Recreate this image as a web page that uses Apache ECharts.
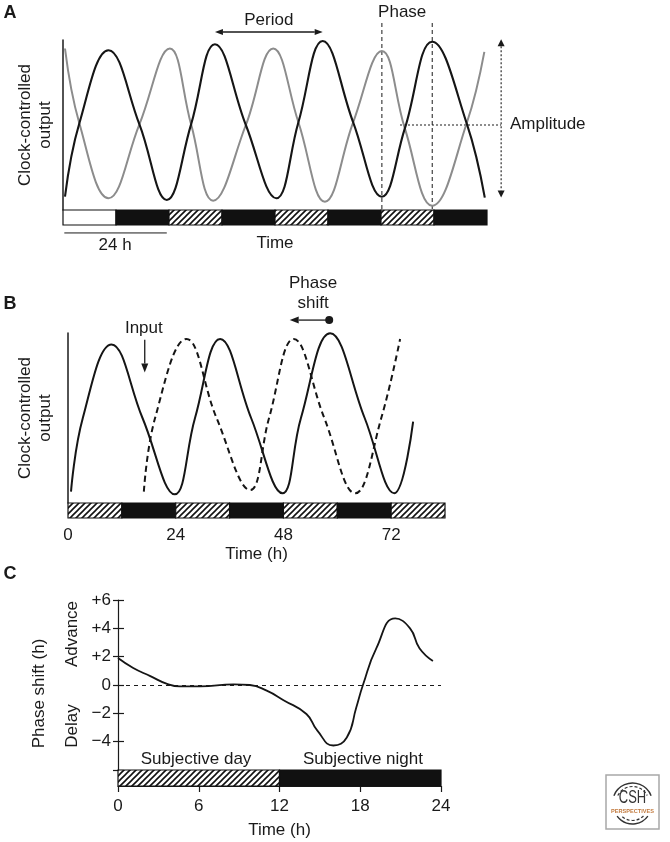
<!DOCTYPE html>
<html><head><meta charset="utf-8">
<script src="https://cdn.jsdelivr.net/npm/echarts@6/dist/echarts.min.js"></script>
<style>html,body{margin:0;padding:0;background:#fff}#c{width:670px;height:842px}</style>
</head><body><div id="c"></div>
<script>
// ---------- DATA (time in h, output in arbitrary % units) ----------
// peaks, troughs and mid-level crossings
const aBlack = [[0.45,7.8],[3.7,51],[10.3,94],[17.3,50.4],[23.5,5.9],[29,50.4],[34.4,97.5],[41.4,50],[48.3,6.9],[53.3,51.6],[58.8,99.4],[65.7,51.6],[72.2,7.8],[77.4,48],[83.6,99],[91.4,51],[95.5,7.3]];
const aGray = [[0.45,95],[3.7,51],[10.3,6.9],[17.3,50.4],[24.2,95],[29,50.4],[34,5.5],[41.4,50],[47.6,95],[53.3,51.6],[59.3,4.9],[65.7,51.6],[72.2,93.5],[77.4,48],[83.6,2.5],[91.4,51],[95.4,93]];
const aBarSegs = [[0,12,'white'],[12,24,'black'],[24,36,'hatch'],[36,48,'black'],[48,60,'hatch'],[60,72,'black'],[72,84,'hatch'],[84,96,'black']];

const bSolid = [[0.67,6.7],[3.3,50],[9.7,93.3],[16.6,50],[23.8,5.1],[28.3,50],[33.9,96.5],[40.8,50],[47.8,5.7],[51.9,50],[58.4,99.8],[66.1,50],[72.7,5.7],[76.9,47.8]];
const bDashed = [[16.9,6.7],[19.4,50],[26.4,96.5],[33.1,50],[40.6,7.6],[44.8,50],[50.3,96.5],[57.1,50],[64,5.7],[69.8,50],[74,96.5]];
const bBarSegs = [[0,12,'hatch'],[12,24,'black'],[24,36,'hatch'],[36,48,'black'],[48,60,'hatch'],[60,72,'black'],[72,84,'hatch']];
const bTicks = [0,24,48,72];

const cCurve = [[0,1.9],[1.13,1.2],[2.4,0.63],[3.6,0.1],[4.6,-0.1],[6.1,-0.1],[8.6,0.05],[9.8,0],[11.05,-0.4],[12.3,-1.07],[14,-2.05],[14.8,-3.2],[16,-4.27],[17,-3.7],[17.7,-1.6],[18.2,0],[19.2,2.6],[20.6,4.7],[21.7,4.0],[22.4,2.6],[23.4,1.7]];
const cBarSegs = [[0,12,'hatch'],[12,24,'black']];
const cXTicks = [0,6,12,18,24];

// ---------- STYLE ----------
const FONT = '"Liberation Sans", Arial, Helvetica, sans-serif';
const INK = '#1a1a1a';
const hc = document.createElement('canvas'); hc.width = 6; hc.height = 6;
(function(){const g = hc.getContext('2d'); g.fillStyle = '#fff'; g.fillRect(0,0,6,6);
 g.strokeStyle = '#111'; g.lineWidth = 1.6; g.beginPath();
 g.moveTo(0,6); g.lineTo(6,0); g.moveTo(-1,1); g.lineTo(1,-1); g.moveTo(5,7); g.lineTo(7,5); g.stroke();})();
const fills = {white:'#fff', black:'#111', hatch:{image: hc, repeat:'repeat'}};

function barSeries(segs, xi, yi){
  return {type:'custom', xAxisIndex:xi, yAxisIndex:yi, silent:true,
    data: segs.map(s => [s[0], s[1]]),
    renderItem: function(params, api){
      const seg = segs[params.dataIndex];
      const p0 = api.coord([api.value(0), 1]), p1 = api.coord([api.value(1), 0]);
      return {type:'rect', shape:{x:p0[0], y:p0[1], width:p1[0]-p0[0], height:p1[1]-p0[1]},
        style:{fill: fills[seg[2]], stroke:'#111', lineWidth:1.2}};
    }};
}
const hidden = {show:false};
function outAxisY(gi, gap){
  return {gridIndex:gi, type:'value', min:0, max:100,
    axisLine:{show:true, lineStyle:{color:INK, width:1.5}}, axisTick:hidden, axisLabel:hidden, splitLine:hidden,
    name:'Clock-controlled\noutput', nameLocation:'middle', nameGap:gap, nameRotate:90,
    nameTextStyle:{fontSize:17, lineHeight:20, color:INK, fontFamily:FONT}};
}
const lbl = {fontSize:17, color:INK, fontFamily:FONT};
const SM = 0.42;

const option = {
  animation:false,
  textStyle:{fontFamily:FONT},
  grid:[
    {left:63, top:40, width:424, height:170},
    {left:63, top:210, width:424, height:15},
    {left:68, top:333, width:377, height:170},
    {left:68, top:503, width:377, height:15},
    {left:118, top:600, width:323, height:170},
    {left:118, top:770, width:323, height:16}
  ],
  xAxis:[
    {gridIndex:0, type:'value', min:0, max:96, show:false},
    {gridIndex:1, type:'value', min:0, max:96, axisLine:hidden, axisTick:hidden, axisLabel:hidden, splitLine:hidden,
      name:'Time', nameLocation:'middle', nameGap:10, nameTextStyle:lbl},
    {gridIndex:2, type:'value', min:0, max:84, show:false},
    {gridIndex:3, type:'value', min:0, max:84, interval:24, axisLine:hidden, axisTick:hidden, splitLine:hidden,
      axisLabel:Object.assign({margin:9, formatter: v => bTicks.includes(v) ? String(v) : ''}, lbl),
      name:'Time (h)', nameLocation:'middle', nameGap:28, nameTextStyle:lbl},
    {gridIndex:4, type:'value', min:0, max:24, show:false},
    {gridIndex:5, type:'value', min:0, max:24, interval:6, splitLine:hidden,
      axisLine:{show:true, lineStyle:{color:INK, width:1.2}},
      axisTick:{show:true, length:6, lineStyle:{color:INK, width:1.2}},
      axisLabel:Object.assign({margin:12, formatter: v => cXTicks.includes(v) ? String(v) : ''}, lbl),
      name:'Time (h)', nameLocation:'middle', nameGap:36, nameTextStyle:lbl}
  ],
  yAxis:[
    outAxisY(0, 8),
    {gridIndex:1, type:'value', min:0, max:1, show:false},
    outAxisY(2, 13),
    {gridIndex:3, type:'value', min:0, max:1, show:false},
    {gridIndex:4, type:'value', min:-6, max:6, interval:2, position:'left', splitLine:hidden,
      axisLine:{show:true, lineStyle:{color:INK, width:1.2}},
      axisTick:{show:true, length:5, lineStyle:{color:INK, width:1.2}},
      axisLabel:Object.assign({margin:7, formatter: v => v === -6 ? '' : (v > 0 ? '+' + v : (v < 0 ? '\u2212' + (-v) : '0'))}, lbl)},
    {gridIndex:4, type:'value', min:-6, max:6, interval:2, position:'left', offset:0, splitLine:hidden,
      axisLine:hidden, axisLabel:hidden,
      axisTick:{show:true, inside:true, length:6, lineStyle:{color:INK, width:1.2}}},
    {gridIndex:5, type:'value', min:0, max:1, show:false}
  ],
  series:[
    {type:'line', xAxisIndex:0, yAxisIndex:0, data:aGray, smooth:SM, symbol:'none', lineStyle:{color:'#8c8c8c', width:2}},
    {type:'line', xAxisIndex:0, yAxisIndex:0, data:aBlack, smooth:SM, symbol:'none', lineStyle:{color:'#151515', width:2.1}},
    barSeries(aBarSegs, 1, 1),
    {type:'line', xAxisIndex:2, yAxisIndex:2, data:bSolid, smooth:SM, symbol:'none', lineStyle:{color:'#151515', width:2}},
    {type:'line', xAxisIndex:2, yAxisIndex:2, data:bDashed, smooth:SM, symbol:'none', lineStyle:{color:'#151515', width:2, type:[6,4]}},
    barSeries(bBarSegs, 3, 3),
    {type:'line', xAxisIndex:4, yAxisIndex:4, data:cCurve, smooth:0.5, symbol:'none', lineStyle:{color:'#151515', width:1.8},
      markLine:{silent:true, symbol:'none', label:{show:false}, lineStyle:{color:INK, width:1, type:[4,4]}, data:[{yAxis:0}]}},
    barSeries(cBarSegs, 5, 6)
  ]
};

const chart = echarts.init(document.getElementById('c'), null, {renderer:'canvas'});
chart.setOption(option);

// ---------- ANNOTATIONS (placed in data coordinates through the axes) ----------
const P = (gi, x, y) => chart.convertToPixel({gridIndex:gi}, [x, y]);
const G = [];
function txt(p, s, o){ o = o || {};
  G.push({type:'text', x:p[0], y:p[1], rotation:o.rot||0, silent:true,
    style:{text:s, font:(o.bold?'bold ':'') + (o.size||17) + 'px ' + FONT, fill:o.color||INK,
      align:o.align||'center', verticalAlign:'middle'}}); }
function seg(p, q, o){ o = o || {};
  G.push({type:'line', silent:true, shape:{x1:p[0], y1:p[1], x2:q[0], y2:q[1]},
    style:{stroke:INK, lineWidth:o.w||1.2, lineDash:o.dash||null}}); }
function head(tip, from, len, wid){ len = len||8; wid = wid||6;
  const dx = tip[0]-from[0], dy = tip[1]-from[1], L = Math.hypot(dx,dy), ux = dx/L, uy = dy/L;
  const bx = tip[0]-ux*len, by = tip[1]-uy*len;
  G.push({type:'polygon', silent:true, shape:{points:[[tip[0],tip[1]],[bx-uy*wid/2,by+ux*wid/2],[bx+uy*wid/2,by-ux*wid/2]]}, style:{fill:INK}});
  return [bx, by]; }
function arrow(p, q, o){ o = o || {};
  const a = o.both ? head(p, q, o.len, o.wid) : p; const b = head(q, p, o.len, o.wid); seg(a, b, o); }

// panel labels
txt([10, 13], 'A', {bold:true, size:18});
txt([10, 304], 'B', {bold:true, size:18});
txt([10, 574], 'C', {bold:true, size:18});

// Panel A
arrow(P(0, 34.4, 104.7), P(0, 58.8, 104.7), {both:true, w:1.3});
txt(P(0, 46.6, 111.8), 'Period');
txt(P(0, 76.8, 116), 'Phase');
seg(P(0, 72.2, 110), P(0, 72.2, 0), {w:1, dash:[4,3]});
seg(P(0, 83.6, 110), P(0, 83.6, 0), {w:1, dash:[4,3]});
seg(P(0, 76.3, 50), P(0, 99.2, 50), {w:1.1, dash:[2,2]});
arrow(P(0, 99.2, 100.5), P(0, 99.2, 7.4), {both:true, w:1.1, dash:[2,2], len:7, wid:7});
txt(P(0, 101.2, 50.5), 'Amplitude', {align:'left'});
seg(P(1, 0.3, -0.53), P(1, 23.5, -0.53), {w:1});
txt(P(1, 11.8, -1.35), '24 h');

// Panel B
txt(P(2, 54.6, 129.4), 'Phase');
txt(P(2, 54.6, 117.6), 'shift');
arrow(P(2, 58.2, 107.6), P(2, 49.4, 107.6), {w:1.3, len:9, wid:7});
(function(){const c = P(2, 58.2, 107.6); G.push({type:'circle', silent:true, shape:{cx:c[0], cy:c[1], r:4}, style:{fill:INK}});})();
txt(P(2, 16.9, 102.9), 'Input');
arrow(P(2, 17.1, 96), P(2, 17.1, 76.8), {w:1.3, len:9, wid:7});

// Panel C
txt(P(4, 5.8, -5.25), 'Subjective day');
txt(P(4, 18.2, -5.25), 'Subjective night');
txt([39, P(4, 0, -0.6)[1]], 'Phase shift (h)', {rot:Math.PI/2});
txt([72, P(4, 0, 3.6)[1]], 'Advance', {rot:Math.PI/2});
txt([72, P(4, 0, -2.9)[1]], 'Delay', {rot:Math.PI/2});

// CSH Perspectives logo
G.push({type:'rect', silent:true, shape:{x:606, y:775, width:53, height:54}, style:{fill:'#fff', stroke:'#a8a8a8', lineWidth:1.5}});
G.push({type:'arc', silent:true, shape:{cx:632.5, cy:803, r:20, startAngle:Math.PI*1.12, endAngle:Math.PI*1.88}, style:{stroke:'#333', lineWidth:1.4, fill:null}});
G.push({type:'arc', silent:true, shape:{cx:632.5, cy:803, r:16.5, startAngle:Math.PI*1.15, endAngle:Math.PI*1.85}, style:{stroke:'#333', lineWidth:1.2, fill:null, lineDash:[3,2]}});
G.push({type:'arc', silent:true, shape:{cx:632.5, cy:805, r:19, startAngle:Math.PI*0.2, endAngle:Math.PI*0.8}, style:{stroke:'#333', lineWidth:1.4, fill:null}});
G.push({type:'arc', silent:true, shape:{cx:632.5, cy:805, r:15.5, startAngle:Math.PI*0.25, endAngle:Math.PI*0.75}, style:{stroke:'#333', lineWidth:1.2, fill:null, lineDash:[3,2]}});
G.push({type:'text', silent:true, x:632.5, y:798, scaleY:1.35, style:{text:'CSH', font:'13px ' + FONT, fill:'#333', align:'center', verticalAlign:'middle'}});
G.push({type:'text', silent:true, x:632.5, y:811.5, style:{text:'PERSPECTIVES', font:'bold 5.6px ' + FONT, fill:'#c27a3e', align:'center', verticalAlign:'middle'}});

chart.setOption({graphic:G});
</script>
</body></html>
